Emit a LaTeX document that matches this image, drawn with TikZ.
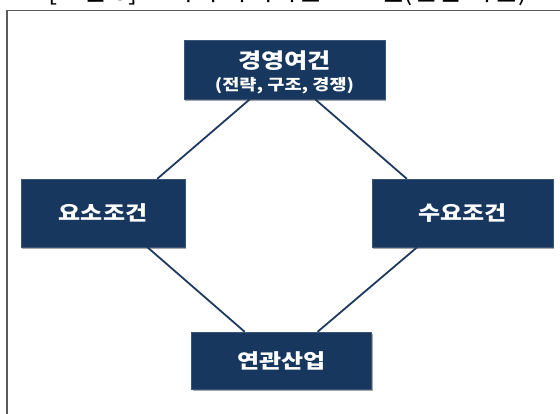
\documentclass[tikz,border=0pt]{standalone}
\usepackage{fontspec}
\newfontfamily\kr{Noto Sans CJK KR}
\newfontfamily\krw{Noto Sans CJK KR}[FakeStretch=1.2]
\usetikzlibrary{calc,shadows}
\definecolor{navy}{HTML}{17375E}
\definecolor{linenavy}{HTML}{1F3A60}
\definecolor{framegray}{HTML}{5A5A5A}
\tikzset{
  box/.style={rectangle, fill=navy, draw=navy!85!white, line width=0.4pt, text=white,
    font=\krw\bfseries\fontsize{20}{23}\selectfont, inner sep=0pt,
    drop shadow={shadow xshift=1.2pt, shadow yshift=-1.8pt, opacity=0.35, fill=black}},
  boxtext/.style={text=white, inner sep=0pt, font=\krw\bfseries},
  link/.style={draw=linenavy, line width=1.8pt},
  frame/.style={draw=framegray, line width=1.2pt}
}
\begin{document}
\begin{tikzpicture}[x=1pt,y=-1pt]
\useasboundingbox (0,0) rectangle (560,413);
% clipped title
\begin{scope}
\clip (0,0) rectangle (560,5.5);
\node[font=\kr\fontsize{27}{30}\selectfont, anchor=base] (title) at (288,0) {[그림 3] 포터의 다이아몬드 모델(산업 차원)};
\end{scope}
% frame
\coordinate (fbl) at (7,430);
\coordinate (ftl) at (7,10.5);
\coordinate (ftr) at (575,10.5);
\draw[frame] (fbl) -- (ftl) -- (ftr);
% boxes
\node[box, minimum width=201pt, minimum height=59pt] (top) at (284.5,69.5) {};
\node[boxtext, font=\krw\bfseries\fontsize{21}{24}\selectfont] (toptitle) at ($(top.center)+(0,-8.5)$) {경영여건};
\node[boxtext, font=\krw\bfseries\fontsize{15.5}{17}\selectfont] (topsub) at ($(top.center)+(0,16)$) {(전략, 구조, 경쟁)};
\node[box, minimum width=164pt, minimum height=68pt] (left) at (103,213) {요소조건};
\node[box, minimum width=181pt, minimum height=68pt] (right) at (462.5,213) {수요조건};
\node[box, minimum width=180pt, minimum height=57pt] (bottom) at (281.5,360.5) {연관산업};
% connectors
\draw[link] ($(top.south west)!0.328!(top.south east)$) -- ($(left.north west)!0.83!(left.north east)$);
\draw[link] ($(top.south west)!0.652!(top.south east)$) -- ($(right.north west)!0.193!(right.north east)$);
\draw[link] ($(left.south west)!0.77!(left.south east)$) -- ($(bottom.north west)!0.296!(bottom.north east)$);
\draw[link] ($(right.south west)!0.25!(right.south east)$) -- ($(bottom.north west)!0.70!(bottom.north east)$);
\end{tikzpicture}
\end{document}
